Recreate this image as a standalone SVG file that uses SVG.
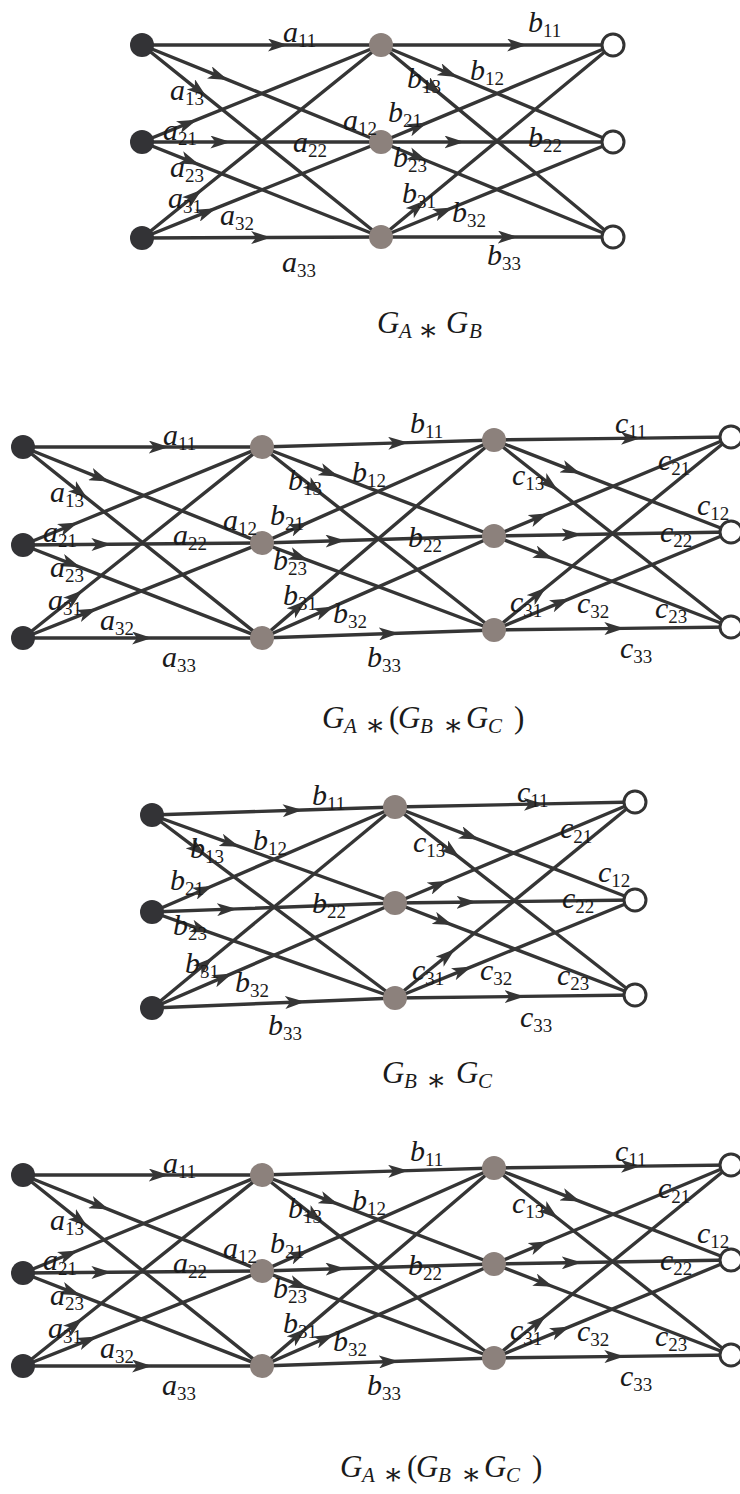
<svg xmlns="http://www.w3.org/2000/svg" width="740" height="1494" viewBox="0 0 740 1494">
<style>
.e{fill:none;stroke:#353535;stroke-width:3.4;marker-mid:url(#ah)}
.nl{fill:#333336}
.nm{fill:#8c817c}
.nr{fill:#fff;stroke:#333;stroke-width:3}
.lb{font-family:"Liberation Serif",serif;font-style:italic;font-size:30px;fill:#1a1a1a}
.lb tspan{font-style:normal;font-size:19px}
.cp{font-family:"Liberation Serif",serif;font-style:italic;font-size:31px;fill:#1a1a1a}
.cp .s{font-size:21px}
.cp .o{font-style:normal;font-family:"DejaVu Serif","Liberation Serif",serif;font-size:30px}
.cp .p{font-style:normal}
</style>
<defs>
<marker id="ah" viewBox="0 0 20 13" refX="20" refY="6.5" markerWidth="20" markerHeight="13" orient="auto" markerUnits="userSpaceOnUse">
<path d="M0,0 L20,6.5 L0,13 L5,6.5 Z" fill="#353535"/>
</marker>
</defs>

<!-- Diagram 1 -->
<g id="d1-connectors">
<path class="e" d="M142,45 L288,45 L381,45"/>
<path class="e" d="M142,45 L228,79.9 L381,142"/>
<path class="e" d="M142,45 L206.5,96.8 L381,237"/>
<path class="e" d="M142,142 L197,119.7 L381,45"/>
<path class="e" d="M142,142 L230.4,142 L381,142"/>
<path class="e" d="M142,142 L199.4,164.8 L381,237"/>
<path class="e" d="M142,238 L201.75,189.75 L381,45"/>
<path class="e" d="M142,238 L216.1,208.2 L381,142"/>
<path class="e" d="M142,238 L271.1,237.5 L381,237"/>
<path class="e" d="M381,45 L527.2,45 L613,45"/>
<path class="e" d="M381,45 L457.6,77 L613,142"/>
<path class="e" d="M381,45 L441.3,94.9 L613,237"/>
<path class="e" d="M381,142 L427.4,122.6 L613,45"/>
<path class="e" d="M381,142 L464.5,142 L613,142"/>
<path class="e" d="M381,142 L427.4,161 L613,237"/>
<path class="e" d="M381,237 L425.1,200.5 L613,45"/>
<path class="e" d="M381,237 L452.9,207.5 L613,142"/>
<path class="e" d="M381,237 L517.9,237 L613,237"/>
</g>
<g id="d1-L1"><circle class="nl" cx="142" cy="45" r="12"/></g>
<g id="d1-L2"><circle class="nl" cx="142" cy="142" r="12"/></g>
<g id="d1-L3"><circle class="nl" cx="142" cy="238" r="12"/></g>
<g id="d1-M1"><circle class="nm" cx="381" cy="45" r="12"/></g>
<g id="d1-M2"><circle class="nm" cx="381" cy="142" r="12"/></g>
<g id="d1-M3"><circle class="nm" cx="381" cy="237" r="12"/></g>
<g id="d1-R1"><circle class="nr" cx="613" cy="45" r="11"/></g>
<g id="d1-R2"><circle class="nr" cx="613" cy="142" r="11"/></g>
<g id="d1-R3"><circle class="nr" cx="613" cy="237" r="11"/></g>
<g id="d1-labels">
<text class="lb" x="283" y="42">a<tspan dy="5">11</tspan></text>
<text class="lb" x="343" y="130">a<tspan dy="5">12</tspan></text>
<text class="lb" x="170" y="100">a<tspan dy="5">13</tspan></text>
<text class="lb" x="163" y="140">a<tspan dy="5">21</tspan></text>
<text class="lb" x="293" y="152">a<tspan dy="5">22</tspan></text>
<text class="lb" x="170" y="177">a<tspan dy="5">23</tspan></text>
<text class="lb" x="168" y="208">a<tspan dy="5">31</tspan></text>
<text class="lb" x="220" y="225">a<tspan dy="5">32</tspan></text>
<text class="lb" x="282" y="272">a<tspan dy="5">33</tspan></text>
<text class="lb" x="528" y="32">b<tspan dy="5">11</tspan></text>
<text class="lb" x="470" y="80">b<tspan dy="5">12</tspan></text>
<text class="lb" x="407" y="88">b<tspan dy="5">13</tspan></text>
<text class="lb" x="388" y="122">b<tspan dy="5">21</tspan></text>
<text class="lb" x="528" y="147">b<tspan dy="5">22</tspan></text>
<text class="lb" x="393" y="167">b<tspan dy="5">23</tspan></text>
<text class="lb" x="402" y="203">b<tspan dy="5">31</tspan></text>
<text class="lb" x="452" y="222">b<tspan dy="5">32</tspan></text>
<text class="lb" x="487" y="265">b<tspan dy="5">33</tspan></text>
</g>
<text class="cp" y="333"><tspan x="377">G</tspan><tspan class="s" x="399" y="338">A</tspan><tspan class="o" x="418" y="340">∗</tspan><tspan x="446" y="333">G</tspan><tspan class="s" x="469" y="338">B</tspan></text>

<!-- Diagram 2 -->
<g id="d2-connectors">
<path class="e" d="M23,447 L168.8,447 L262,447"/>
<path class="e" d="M23,447 L109,481.6 L262,543"/>
<path class="e" d="M23,447 L87.5,498.6 L262,638"/>
<path class="e" d="M23,545 L78,522.5 L262,447"/>
<path class="e" d="M23,545 L111.4,544.3 L262,543"/>
<path class="e" d="M23,545 L80.4,567.3 L262,638"/>
<path class="e" d="M23,638 L82.75,590.25 L262,447"/>
<path class="e" d="M23,638 L97.1,608.6 L262,543"/>
<path class="e" d="M23,638 L152.1,638 L262,638"/>
<path class="e" d="M262,447 L408.2,442.6 L494,440"/>
<path class="e" d="M262,447 L338.6,476.4 L494,536"/>
<path class="e" d="M262,447 L322.3,494.6 L494,630"/>
<path class="e" d="M262,543 L308.4,522.4 L494,440"/>
<path class="e" d="M262,543 L345.5,540.5 L494,536"/>
<path class="e" d="M262,543 L308.4,560.4 L494,630"/>
<path class="e" d="M262,638 L306.1,600.4 L494,440"/>
<path class="e" d="M262,638 L333.9,606.4 L494,536"/>
<path class="e" d="M262,638 L398.9,633.3 L494,630"/>
<path class="e" d="M494,440 L641,438.1 L731,437"/>
<path class="e" d="M494,440 L580.5,473.6 L731,532"/>
<path class="e" d="M494,440 L558,490.5 L731,627"/>
<path class="e" d="M494,536 L548.5,513.2 L731,437"/>
<path class="e" d="M494,536 L581.7,534.5 L731,532"/>
<path class="e" d="M494,536 L553.25,558.75 L731,627"/>
<path class="e" d="M494,630 L546.1,587.5 L731,437"/>
<path class="e" d="M494,630 L569.8,598.6 L731,532"/>
<path class="e" d="M494,630 L624.35,628.35 L731,627"/>
</g>
<g id="d2-L1"><circle class="nl" cx="23" cy="447" r="12"/></g>
<g id="d2-L2"><circle class="nl" cx="23" cy="545" r="12"/></g>
<g id="d2-L3"><circle class="nl" cx="23" cy="638" r="12"/></g>
<g id="d2-M1"><circle class="nm" cx="262" cy="447" r="12"/></g>
<g id="d2-M2"><circle class="nm" cx="262" cy="543" r="12"/></g>
<g id="d2-M3"><circle class="nm" cx="262" cy="638" r="12"/></g>
<g id="d2-N1"><circle class="nm" cx="494" cy="440" r="12"/></g>
<g id="d2-N2"><circle class="nm" cx="494" cy="536" r="12"/></g>
<g id="d2-N3"><circle class="nm" cx="494" cy="630" r="12"/></g>
<g id="d2-R1"><circle class="nr" cx="731" cy="437" r="11"/></g>
<g id="d2-R2"><circle class="nr" cx="731" cy="532" r="11"/></g>
<g id="d2-R3"><circle class="nr" cx="731" cy="627" r="11"/></g>
<g id="d2-labels">
<text class="lb" x="163" y="445">a<tspan dy="5">11</tspan></text>
<text class="lb" x="223" y="530">a<tspan dy="5">12</tspan></text>
<text class="lb" x="50" y="502">a<tspan dy="5">13</tspan></text>
<text class="lb" x="43" y="542">a<tspan dy="5">21</tspan></text>
<text class="lb" x="173" y="545">a<tspan dy="5">22</tspan></text>
<text class="lb" x="50" y="577">a<tspan dy="5">23</tspan></text>
<text class="lb" x="48" y="610">a<tspan dy="5">31</tspan></text>
<text class="lb" x="100" y="630">a<tspan dy="5">32</tspan></text>
<text class="lb" x="162" y="667">a<tspan dy="5">33</tspan></text>
<text class="lb" x="410" y="433">b<tspan dy="5">11</tspan></text>
<text class="lb" x="352" y="482">b<tspan dy="5">12</tspan></text>
<text class="lb" x="288" y="490">b<tspan dy="5">13</tspan></text>
<text class="lb" x="270" y="525">b<tspan dy="5">21</tspan></text>
<text class="lb" x="408" y="547">b<tspan dy="5">22</tspan></text>
<text class="lb" x="273" y="570">b<tspan dy="5">23</tspan></text>
<text class="lb" x="283" y="605">b<tspan dy="5">31</tspan></text>
<text class="lb" x="333" y="623">b<tspan dy="5">32</tspan></text>
<text class="lb" x="367" y="667">b<tspan dy="5">33</tspan></text>
<text class="lb" x="615" y="433">c<tspan dy="5">11</tspan></text>
<text class="lb" x="697" y="515">c<tspan dy="5">12</tspan></text>
<text class="lb" x="512" y="485">c<tspan dy="5">13</tspan></text>
<text class="lb" x="658" y="470">c<tspan dy="5">21</tspan></text>
<text class="lb" x="660" y="542">c<tspan dy="5">22</tspan></text>
<text class="lb" x="655" y="618">c<tspan dy="5">23</tspan></text>
<text class="lb" x="510" y="612">c<tspan dy="5">31</tspan></text>
<text class="lb" x="577" y="613">c<tspan dy="5">32</tspan></text>
<text class="lb" x="620" y="658">c<tspan dy="5">33</tspan></text>
</g>
<text class="cp" y="728"><tspan x="322">G</tspan><tspan class="s" x="344" y="733">A</tspan><tspan class="o" x="365" y="735">∗</tspan><tspan class="p" x="389" y="728">(</tspan><tspan x="398">G</tspan><tspan class="s" x="420" y="733">B</tspan><tspan class="o" x="443" y="735">∗</tspan><tspan x="466" y="728">G</tspan><tspan class="s" x="488" y="733">C</tspan><tspan class="p" x="514" y="728">)</tspan></text>

<!-- Diagram 3 -->
<g id="d3-connectors">
<path class="e" d="M152,815 L302.7,810 L395,807"/>
<path class="e" d="M152,815 L239.5,846.7 L395,903"/>
<path class="e" d="M152,815 L205.5,855.3 L395,998"/>
<path class="e" d="M152,912 L212.75,885.75 L395,807"/>
<path class="e" d="M152,912 L237,908.9 L395,903"/>
<path class="e" d="M152,912 L210.3,932.6 L395,998"/>
<path class="e" d="M152,1008 L212.75,957.75 L395,807"/>
<path class="e" d="M152,1008 L232.2,973.4 L395,903"/>
<path class="e" d="M152,1008 L305.1,1001.7 L395,998"/>
<path class="e" d="M395,807 L543.8,803.9 L635,802"/>
<path class="e" d="M395,807 L479,839.6 L635,900"/>
<path class="e" d="M395,807 L459.8,857.8 L635,995"/>
<path class="e" d="M395,903 L447.8,880.8 L635,802"/>
<path class="e" d="M395,903 L476.6,902 L635,900"/>
<path class="e" d="M395,903 L452.6,925.1 L635,995"/>
<path class="e" d="M395,998 L455,949 L635,802"/>
<path class="e" d="M395,998 L471.8,966.6 L635,900"/>
<path class="e" d="M395,998 L524.6,996.4 L635,995"/>
</g>
<g id="d3-L1"><circle class="nl" cx="152" cy="815" r="12"/></g>
<g id="d3-L2"><circle class="nl" cx="152" cy="912" r="12"/></g>
<g id="d3-L3"><circle class="nl" cx="152" cy="1008" r="12"/></g>
<g id="d3-M1"><circle class="nm" cx="395" cy="807" r="12"/></g>
<g id="d3-M2"><circle class="nm" cx="395" cy="903" r="12"/></g>
<g id="d3-M3"><circle class="nm" cx="395" cy="998" r="12"/></g>
<g id="d3-R1"><circle class="nr" cx="635" cy="802" r="11"/></g>
<g id="d3-R2"><circle class="nr" cx="635" cy="900" r="11"/></g>
<g id="d3-R3"><circle class="nr" cx="635" cy="995" r="11"/></g>
<g id="d3-labels">
<text class="lb" x="312" y="805">b<tspan dy="5">11</tspan></text>
<text class="lb" x="253" y="850">b<tspan dy="5">12</tspan></text>
<text class="lb" x="190" y="858">b<tspan dy="5">13</tspan></text>
<text class="lb" x="170" y="890">b<tspan dy="5">21</tspan></text>
<text class="lb" x="312" y="913">b<tspan dy="5">22</tspan></text>
<text class="lb" x="173" y="935">b<tspan dy="5">23</tspan></text>
<text class="lb" x="185" y="973">b<tspan dy="5">31</tspan></text>
<text class="lb" x="235" y="992">b<tspan dy="5">32</tspan></text>
<text class="lb" x="268" y="1035">b<tspan dy="5">33</tspan></text>
<text class="lb" x="517" y="802">c<tspan dy="5">11</tspan></text>
<text class="lb" x="598" y="882">c<tspan dy="5">12</tspan></text>
<text class="lb" x="413" y="852">c<tspan dy="5">13</tspan></text>
<text class="lb" x="560" y="838">c<tspan dy="5">21</tspan></text>
<text class="lb" x="562" y="908">c<tspan dy="5">22</tspan></text>
<text class="lb" x="557" y="985">c<tspan dy="5">23</tspan></text>
<text class="lb" x="412" y="980">c<tspan dy="5">31</tspan></text>
<text class="lb" x="480" y="980">c<tspan dy="5">32</tspan></text>
<text class="lb" x="520" y="1027">c<tspan dy="5">33</tspan></text>
</g>
<text class="cp" y="1083"><tspan x="382">G</tspan><tspan class="s" x="404" y="1088">B</tspan><tspan class="o" x="426" y="1090">∗</tspan><tspan x="456" y="1083">G</tspan><tspan class="s" x="478" y="1088">C</tspan></text>

<!-- Diagram 4 -->
<g transform="translate(0,728)">
<g id="d4-connectors">
<path class="e" d="M23,447 L168.8,447 L262,447"/>
<path class="e" d="M23,447 L109,481.6 L262,543"/>
<path class="e" d="M23,447 L87.5,498.6 L262,638"/>
<path class="e" d="M23,545 L78,522.5 L262,447"/>
<path class="e" d="M23,545 L111.4,544.3 L262,543"/>
<path class="e" d="M23,545 L80.4,567.3 L262,638"/>
<path class="e" d="M23,638 L82.75,590.25 L262,447"/>
<path class="e" d="M23,638 L97.1,608.6 L262,543"/>
<path class="e" d="M23,638 L152.1,638 L262,638"/>
<path class="e" d="M262,447 L408.2,442.6 L494,440"/>
<path class="e" d="M262,447 L338.6,476.4 L494,536"/>
<path class="e" d="M262,447 L322.3,494.6 L494,630"/>
<path class="e" d="M262,543 L308.4,522.4 L494,440"/>
<path class="e" d="M262,543 L345.5,540.5 L494,536"/>
<path class="e" d="M262,543 L308.4,560.4 L494,630"/>
<path class="e" d="M262,638 L306.1,600.4 L494,440"/>
<path class="e" d="M262,638 L333.9,606.4 L494,536"/>
<path class="e" d="M262,638 L398.9,633.3 L494,630"/>
<path class="e" d="M494,440 L641,438.1 L731,437"/>
<path class="e" d="M494,440 L580.5,473.6 L731,532"/>
<path class="e" d="M494,440 L558,490.5 L731,627"/>
<path class="e" d="M494,536 L548.5,513.2 L731,437"/>
<path class="e" d="M494,536 L581.7,534.5 L731,532"/>
<path class="e" d="M494,536 L553.25,558.75 L731,627"/>
<path class="e" d="M494,630 L546.1,587.5 L731,437"/>
<path class="e" d="M494,630 L569.8,598.6 L731,532"/>
<path class="e" d="M494,630 L624.35,628.35 L731,627"/>
</g>
<g id="d4-L1"><circle class="nl" cx="23" cy="447" r="12"/></g>
<g id="d4-L2"><circle class="nl" cx="23" cy="545" r="12"/></g>
<g id="d4-L3"><circle class="nl" cx="23" cy="638" r="12"/></g>
<g id="d4-M1"><circle class="nm" cx="262" cy="447" r="12"/></g>
<g id="d4-M2"><circle class="nm" cx="262" cy="543" r="12"/></g>
<g id="d4-M3"><circle class="nm" cx="262" cy="638" r="12"/></g>
<g id="d4-N1"><circle class="nm" cx="494" cy="440" r="12"/></g>
<g id="d4-N2"><circle class="nm" cx="494" cy="536" r="12"/></g>
<g id="d4-N3"><circle class="nm" cx="494" cy="630" r="12"/></g>
<g id="d4-R1"><circle class="nr" cx="731" cy="437" r="11"/></g>
<g id="d4-R2"><circle class="nr" cx="731" cy="532" r="11"/></g>
<g id="d4-R3"><circle class="nr" cx="731" cy="627" r="11"/></g>
<g id="d4-labels">
<text class="lb" x="163" y="445">a<tspan dy="5">11</tspan></text>
<text class="lb" x="223" y="530">a<tspan dy="5">12</tspan></text>
<text class="lb" x="50" y="502">a<tspan dy="5">13</tspan></text>
<text class="lb" x="43" y="542">a<tspan dy="5">21</tspan></text>
<text class="lb" x="173" y="545">a<tspan dy="5">22</tspan></text>
<text class="lb" x="50" y="577">a<tspan dy="5">23</tspan></text>
<text class="lb" x="48" y="610">a<tspan dy="5">31</tspan></text>
<text class="lb" x="100" y="630">a<tspan dy="5">32</tspan></text>
<text class="lb" x="162" y="667">a<tspan dy="5">33</tspan></text>
<text class="lb" x="410" y="433">b<tspan dy="5">11</tspan></text>
<text class="lb" x="352" y="482">b<tspan dy="5">12</tspan></text>
<text class="lb" x="288" y="490">b<tspan dy="5">13</tspan></text>
<text class="lb" x="270" y="525">b<tspan dy="5">21</tspan></text>
<text class="lb" x="408" y="547">b<tspan dy="5">22</tspan></text>
<text class="lb" x="273" y="570">b<tspan dy="5">23</tspan></text>
<text class="lb" x="283" y="605">b<tspan dy="5">31</tspan></text>
<text class="lb" x="333" y="623">b<tspan dy="5">32</tspan></text>
<text class="lb" x="367" y="667">b<tspan dy="5">33</tspan></text>
<text class="lb" x="615" y="433">c<tspan dy="5">11</tspan></text>
<text class="lb" x="697" y="515">c<tspan dy="5">12</tspan></text>
<text class="lb" x="512" y="485">c<tspan dy="5">13</tspan></text>
<text class="lb" x="658" y="470">c<tspan dy="5">21</tspan></text>
<text class="lb" x="660" y="542">c<tspan dy="5">22</tspan></text>
<text class="lb" x="655" y="618">c<tspan dy="5">23</tspan></text>
<text class="lb" x="510" y="612">c<tspan dy="5">31</tspan></text>
<text class="lb" x="577" y="613">c<tspan dy="5">32</tspan></text>
<text class="lb" x="620" y="658">c<tspan dy="5">33</tspan></text>
</g>
</g>
<text class="cp" y="1477"><tspan x="340">G</tspan><tspan class="s" x="362" y="1482">A</tspan><tspan class="o" x="383" y="1484">∗</tspan><tspan class="p" x="407" y="1477">(</tspan><tspan x="416">G</tspan><tspan class="s" x="438" y="1482">B</tspan><tspan class="o" x="461" y="1484">∗</tspan><tspan x="484" y="1477">G</tspan><tspan class="s" x="506" y="1482">C</tspan><tspan class="p" x="532" y="1477">)</tspan></text>
</svg>
